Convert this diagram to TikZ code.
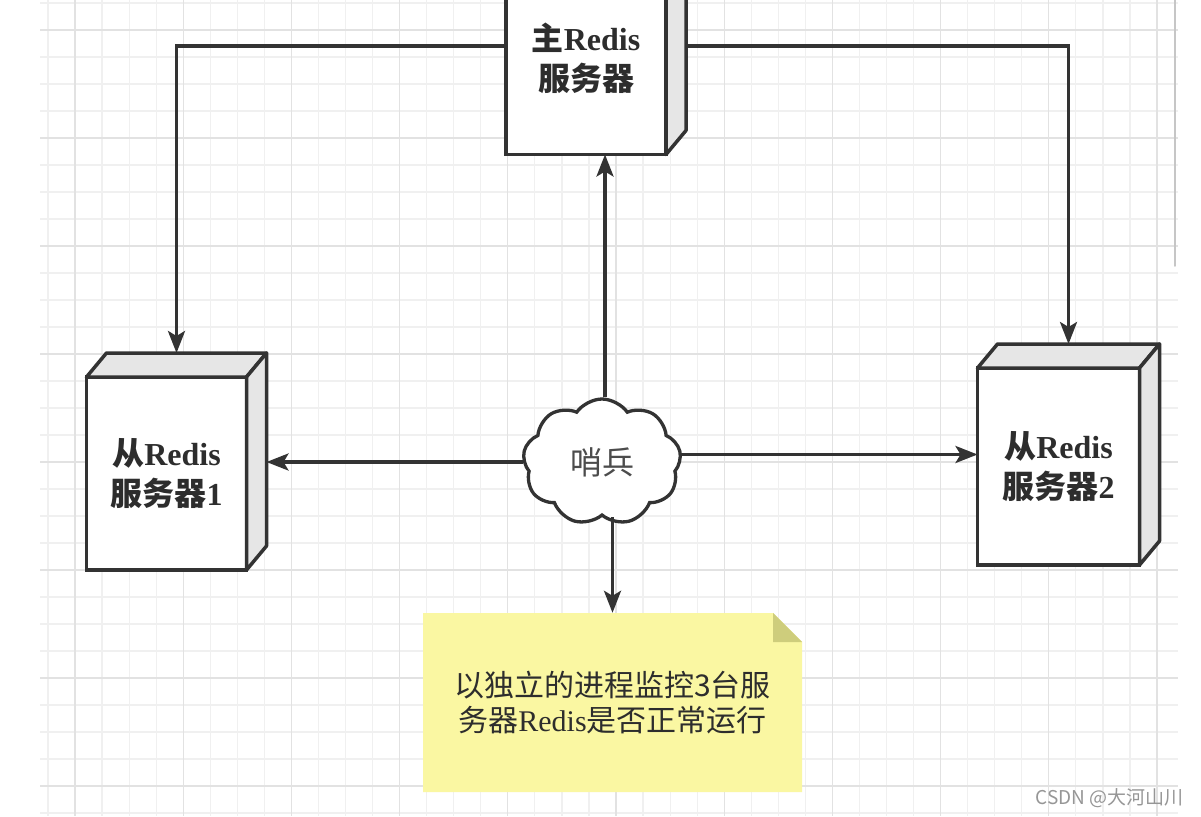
\documentclass[tikz,border=0pt]{standalone}
\usepackage{fontspec}
\usepackage{xcolor}
\usepackage{tikz}
\usetikzlibrary{shapes.symbols,arrows.meta,calc}
\setmainfont{Liberation Serif}
\newfontfamily\cjk{Noto Sans CJK SC}
\definecolor{myline}{RGB}{51,51,51}
\definecolor{mytext}{RGB}{45,45,45}
\definecolor{myface}{RGB}{230,230,230}
\definecolor{mygrid}{RGB}{240,240,240}
\definecolor{mygridmajor}{RGB}{226,226,226}
\definecolor{mynote}{RGB}{250,247,162}
\definecolor{myfold}{RGB}{206,205,124}
\definecolor{mymark}{RGB}{150,150,150}

\tikzset{
  server/.style={draw=myline, fill=white, line width=3.5pt, outer sep=0pt, inner sep=0pt,
    minimum width=160pt, minimum height=193pt, align=center, text=mytext,
    font=\fontsize{32}{40}\selectfont\bfseries},
  face/.style={draw=myline, fill=myface, line width=3.5pt, line join=round},
  link/.style={draw=myline, line width=3.3pt, -{Stealth[length=22pt,width=17pt,inset=5pt]}},
  gridline/.style={mygrid, line width=1.2pt},
  gridmajor/.style={mygridmajor, line width=1.3pt},
}

% side and top faces of a server box
\newcommand{\boxfaces}[1]{%
  \draw[face] (#1.north west) -- ++(20,-24) -- ($(#1.north east)+(20,-24)$) -- (#1.north east) -- cycle;
  \draw[face] (#1.north east) -- ++(20,-24) -- ($(#1.south east)+(20,-24)$) -- (#1.south east) -- cycle;
  \coordinate (#1-n) at ($(#1.north)+(10,-24)$);
  \coordinate (#1-e) at ($(#1.east)+(20,-12)$);
  \coordinate (#1-w) at ($(#1.west)+(0,-12)$);
}

\begin{document}
\begin{tikzpicture}[x=1pt,y=-1pt]
\fill[white] (0,0) rectangle (1201,816);
\useasboundingbox (0,0) rectangle (1201,816);
\clip (0,0) rectangle (1201,816);

% grid
\begin{scope}
\clip (40,0) rectangle (1178,816);
\foreach \i in {0,...,42} {\draw[gridline] ({20.9+27.05*\i},0) -- ({20.9+27.05*\i},816);}
\foreach \j in {0,...,30} {\draw[gridline] (40,{3+27*\j}) -- (1178,{3+27*\j});}
\foreach \i in {0,...,10} {\draw[gridmajor] ({75+108.2*\i},0) -- ({75+108.2*\i},816);}
\foreach \j in {0,...,7} {\draw[gridmajor] (40,{30+108*\j}) -- (1178,{30+108*\j});}
\end{scope}
\draw[gray!45, line width=1.5pt, line cap=round] (1175,-5) -- (1175,266);

% servers
\node[server] (master) at (586,58) {{\cjk 主}Redis\\{\cjk 服务器}};
\boxfaces{master}
\node[server] (slave1) at (166.5,473.5) {{\cjk 从}Redis\\{\cjk 服务器}1};
\boxfaces{slave1}
\node[server, minimum width=162pt, minimum height=197pt] (slave2) at (1058.5,466.5) {{\cjk 从}Redis\\{\cjk 服务器}2};
\boxfaces{slave2}

% sentinel
\node[cloud, draw=myline, fill=white, line width=3.3pt, cloud puffs=9, cloud puff arc=110,
  aspect=1.25, minimum width=158pt, minimum height=126pt, inner sep=0pt, text=mytext!85,
  font=\cjk\fontsize{32}{32}\selectfont] (sentry) at (602,462) {哨兵};

% note
\fill[mynote] (423,613) -- (773,613) -- (802,642) -- (802,792) -- (423,792) -- cycle;
\fill[myfold] (773,613) -- (773,642) -- (802,642) -- cycle;
\node[minimum width=379pt, minimum height=179pt, inner sep=0pt, align=center, text=mytext,
  font=\fontsize{30}{35}\selectfont] (note) at (612.5,702.5)
  {{\cjk 以独立的进程监控3台服}\\{\cjk 务器}Redis{\cjk 是否正常运行}};

% connectors
\draw[link] (master-w) -| (slave1-n);
\draw[link] (master-e) -| (slave2-n);
\draw[link] ([xshift=3pt]sentry.north) -- ([xshift=3pt]sentry.north |- master.south);
\draw[link] (sentry.west) -- (sentry.west -| slave1-e);
\draw[link] (sentry.east |- slave2-w) -- (slave2-w);
\draw[link] (sentry.south -| note.north) -- (note.north);

% watermark
\node[anchor=east, text=mymark, font=\cjk\fontsize{19}{19}\selectfont] (mark) at (1187,798) {CSDN @大河山川};
\end{tikzpicture}
\end{document}
